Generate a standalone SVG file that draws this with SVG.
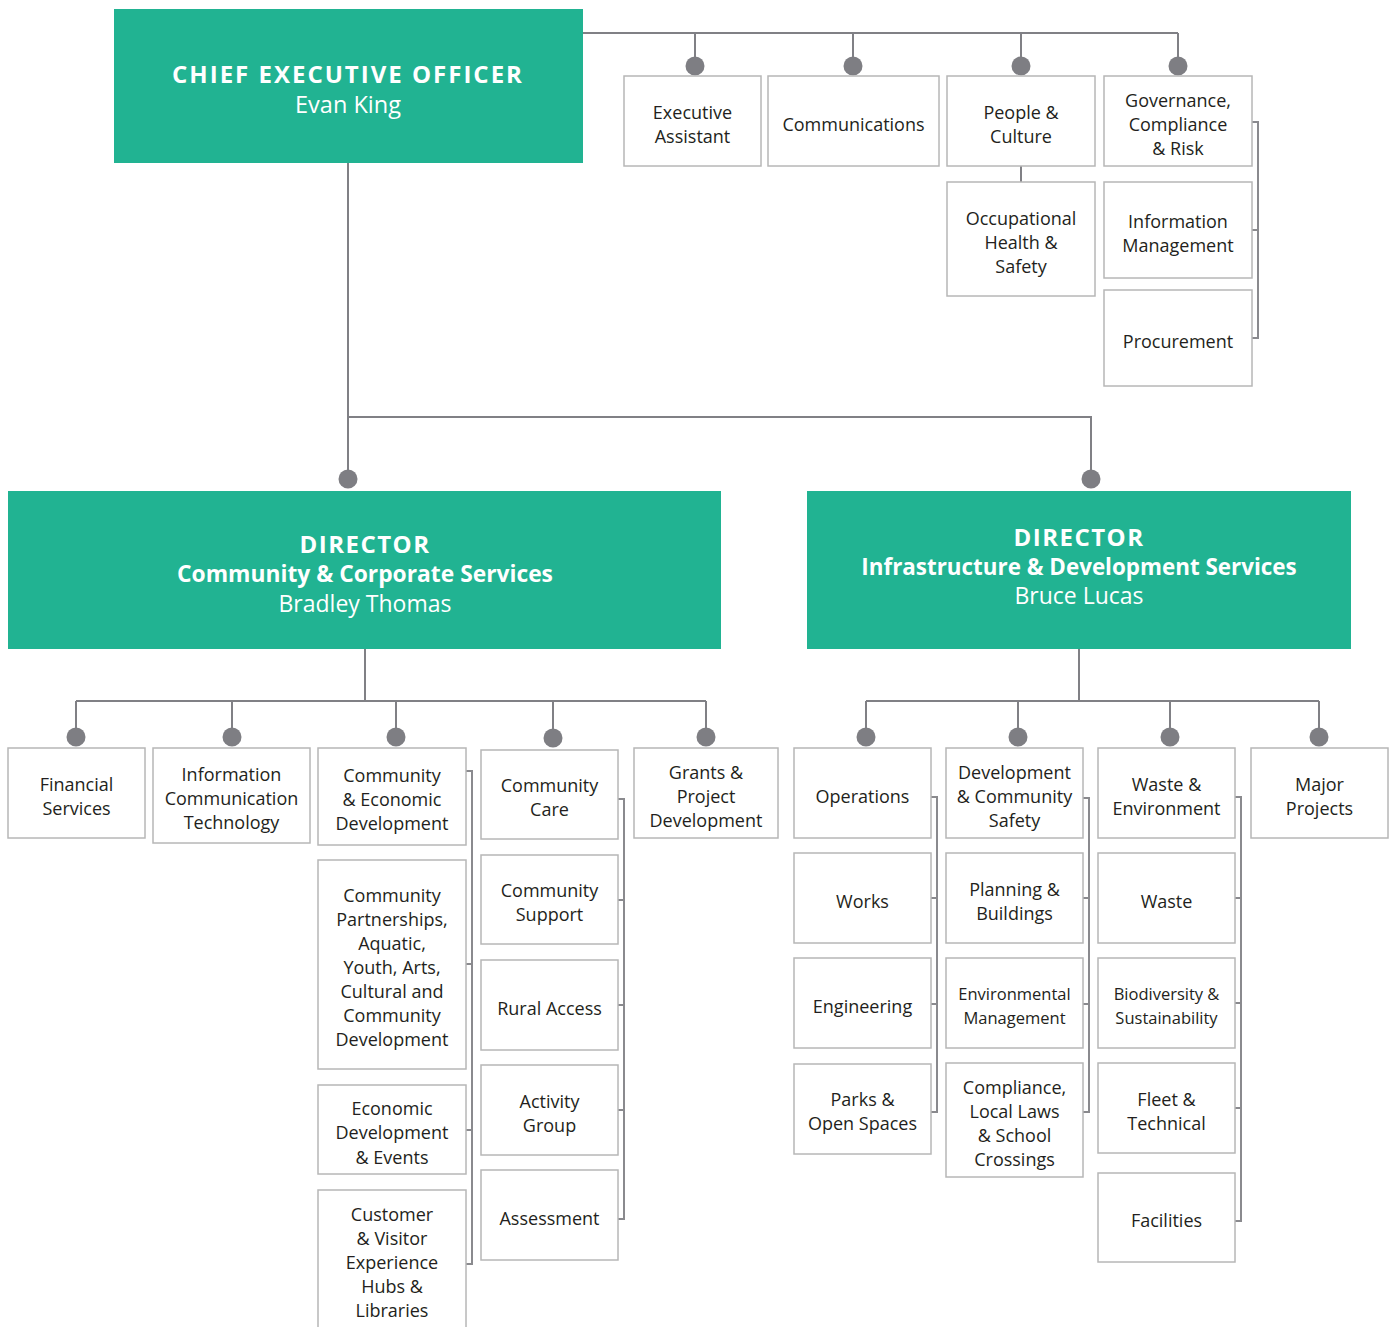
<svg xmlns="http://www.w3.org/2000/svg" width="1394" height="1327" viewBox="0 0 1394 1327">
<style>
.lead{fill:#21b392}
.box{fill:#fff;stroke:#b7b7b7;stroke-width:1.5}
.t{font-family:"Open Sans","Liberation Sans",sans-serif;font-size:18px;fill:#231f20;text-anchor:middle;transform:translateY(1px)}
.ts{font-size:16.5px}
.h{font-family:"Open Sans","Liberation Sans",sans-serif;font-weight:700;fill:#fff;text-anchor:middle}
.n{font-family:"Open Sans","Liberation Sans",sans-serif;font-weight:400;fill:#fff;text-anchor:middle}
.c{fill:none;stroke:#808085;stroke-width:2}
.b{fill:none;stroke:#8a8a8e;stroke-width:2}
.dot{fill:#7e7e83}
</style>
<rect width="1394" height="1327" fill="#fff"/>
<g id="connectors">
<path class="c" d="M583 33H1178M695 33V66M853 33V66M1021 33V66M1178 33V66"/>
<path class="c" d="M1021 166V182"/>
<path class="b" d="M1252 122H1258V338H1252M1252 230H1258"/>
<path class="c" d="M348 163V479M348 417H1091V479"/>
<path class="c" d="M365 649V701M76 701H706M76 701V737M232 701V737M396 701V737M553 701V737M706 701V737"/>
<path class="c" d="M1079 649V701M866 701H1319M866 701V737M1018 701V737M1170 701V737M1319 701V737"/>
<path class="b" d="M466 771H472V1264H466M466 964H472M466 1130H472"/>
<path class="b" d="M618 799H624V1219H618M618 900H624M618 1005H624M618 1110H624"/>
<path class="b" d="M931 797H937V1112H931M931 898H937M931 1004H937"/>
<path class="b" d="M1083 798H1089V1112H1083M1083 898H1089M1083 1004H1089"/>
<path class="b" d="M1235 797H1241V1221H1235M1235 898H1241M1235 1003H1241M1235 1108H1241"/>
<g class="dot">
<circle cx="695" cy="66" r="9.5"/><circle cx="853" cy="66" r="9.5"/><circle cx="1021" cy="66" r="9.5"/><circle cx="1178" cy="66" r="9.5"/>
<circle cx="348" cy="479" r="9.5"/><circle cx="1091" cy="479" r="9.5"/>
<circle cx="76" cy="737" r="9.5"/><circle cx="232" cy="737" r="9.5"/><circle cx="396" cy="737" r="9.5"/><circle cx="553" cy="738" r="9.5"/><circle cx="706" cy="737" r="9.5"/>
<circle cx="866" cy="737" r="9.5"/><circle cx="1018" cy="737" r="9.5"/><circle cx="1170" cy="737" r="9.5"/><circle cx="1319" cy="737" r="9.5"/>
</g>
</g>
<g id="ceo">
<rect class="lead" x="114" y="9" width="469" height="154"/>
<text class="h" x="348" y="83" font-size="24" letter-spacing="2">CHIEF EXECUTIVE OFFICER</text>
<text class="n" x="348" y="113" font-size="23.5">Evan King</text>
</g>
<g id="dir-ccs">
<rect class="lead" x="8" y="491" width="713" height="158"/>
<text class="h" x="365" y="553" font-size="24" letter-spacing="1.5">DIRECTOR</text>
<text class="h" x="365" y="582" font-size="22.8">Community &amp; Corporate Services</text>
<text class="n" x="365" y="612" font-size="23">Bradley Thomas</text>
</g>
<g id="dir-ids">
<rect class="lead" x="807" y="491" width="544" height="158"/>
<text class="h" x="1079" y="546" font-size="24" letter-spacing="1.5">DIRECTOR</text>
<text class="h" x="1079" y="575" font-size="22.4">Infrastructure &amp; Development Services</text>
<text class="n" x="1079" y="604" font-size="23">Bruce Lucas</text>
</g>
<g id="exec-assistant"><rect class="box" x="624" y="76" width="137" height="90"/><text class="t" x="692.5" y="118">Executive</text><text class="t" x="692.5" y="142">Assistant</text></g>
<g id="communications"><rect class="box" x="768" y="76" width="171" height="90"/><text class="t" x="853.5" y="130">Communications</text></g>
<g id="people-culture"><rect class="box" x="947" y="76" width="148" height="90"/><text class="t" x="1021" y="118">People &amp;</text><text class="t" x="1021" y="142">Culture</text></g>
<g id="governance"><rect class="box" x="1104" y="76" width="148" height="90"/><text class="t" x="1178" y="106">Governance,</text><text class="t" x="1178" y="130">Compliance</text><text class="t" x="1178" y="154">&amp; Risk</text></g>
<g id="ohs"><rect class="box" x="947" y="182" width="148" height="114"/><text class="t" x="1021" y="224">Occupational</text><text class="t" x="1021" y="248">Health &amp;</text><text class="t" x="1021" y="272">Safety</text></g>
<g id="info-mgmt"><rect class="box" x="1104" y="182" width="148" height="96"/><text class="t" x="1178" y="227">Information</text><text class="t" x="1178" y="251">Management</text></g>
<g id="procurement"><rect class="box" x="1104" y="290" width="148" height="96"/><text class="t" x="1178" y="347">Procurement</text></g>

<g id="financial"><rect class="box" x="8" y="748" width="137" height="90"/><text class="t" x="76.5" y="790">Financial</text><text class="t" x="76.5" y="814">Services</text></g>
<g id="ict"><rect class="box" x="153" y="748" width="157" height="95"/><text class="t" x="231.5" y="780">Information</text><text class="t" x="231.5" y="804">Communication</text><text class="t" x="231.5" y="828">Technology</text></g>
<g id="ced"><rect class="box" x="318" y="748" width="148" height="97"/><text class="t" x="392" y="781">Community</text><text class="t" x="392" y="805">&amp; Economic</text><text class="t" x="392" y="829">Development</text></g>
<g id="cp"><rect class="box" x="318" y="860" width="148" height="209"/><text class="t" x="392" y="901">Community</text><text class="t" x="392" y="925">Partnerships,</text><text class="t" x="392" y="949">Aquatic,</text><text class="t" x="392" y="973">Youth, Arts,</text><text class="t" x="392" y="997">Cultural and</text><text class="t" x="392" y="1021">Community</text><text class="t" x="392" y="1045">Development</text></g>
<g id="ede"><rect class="box" x="318" y="1085" width="148" height="89"/><text class="t" x="392" y="1114">Economic</text><text class="t" x="392" y="1138">Development</text><text class="t" x="392" y="1163">&amp; Events</text></g>
<g id="cve"><rect class="box" x="318" y="1190" width="148" height="150"/><text class="t" x="392" y="1220">Customer</text><text class="t" x="392" y="1244">&amp; Visitor</text><text class="t" x="392" y="1268">Experience</text><text class="t" x="392" y="1292">Hubs &amp;</text><text class="t" x="392" y="1316">Libraries</text></g>
<g id="comm-care"><rect class="box" x="481" y="750" width="137" height="89"/><text class="t" x="549.5" y="791">Community</text><text class="t" x="549.5" y="815">Care</text></g>
<g id="comm-support"><rect class="box" x="481" y="855" width="137" height="89"/><text class="t" x="549.5" y="896">Community</text><text class="t" x="549.5" y="920">Support</text></g>
<g id="rural"><rect class="box" x="481" y="960" width="137" height="90"/><text class="t" x="549.5" y="1014">Rural Access</text></g>
<g id="activity"><rect class="box" x="481" y="1065" width="137" height="90"/><text class="t" x="549.5" y="1107">Activity</text><text class="t" x="549.5" y="1131">Group</text></g>
<g id="assessment"><rect class="box" x="481" y="1170" width="137" height="90"/><text class="t" x="549.5" y="1224">Assessment</text></g>
<g id="grants"><rect class="box" x="634" y="748" width="144" height="90"/><text class="t" x="706" y="778">Grants &amp;</text><text class="t" x="706" y="802">Project</text><text class="t" x="706" y="826">Development</text></g>

<g id="operations"><rect class="box" x="794" y="748" width="137" height="90"/><text class="t" x="862.5" y="802">Operations</text></g>
<g id="works"><rect class="box" x="794" y="853" width="137" height="90"/><text class="t" x="862.5" y="907">Works</text></g>
<g id="engineering"><rect class="box" x="794" y="958" width="137" height="90"/><text class="t" x="862.5" y="1012">Engineering</text></g>
<g id="parks"><rect class="box" x="794" y="1064" width="137" height="90"/><text class="t" x="862.5" y="1105">Parks &amp;</text><text class="t" x="862.5" y="1129">Open Spaces</text></g>
<g id="dcs"><rect class="box" x="946" y="748" width="137" height="90"/><text class="t" x="1014.5" y="778">Development</text><text class="t" x="1014.5" y="802">&amp; Community</text><text class="t" x="1014.5" y="826">Safety</text></g>
<g id="planning"><rect class="box" x="946" y="853" width="137" height="90"/><text class="t" x="1014.5" y="895">Planning &amp;</text><text class="t" x="1014.5" y="919">Buildings</text></g>
<g id="env-mgmt"><rect class="box" x="946" y="958" width="137" height="90"/><text class="t ts" x="1014.5" y="999">Environmental</text><text class="t ts" x="1014.5" y="1023">Management</text></g>
<g id="compliance"><rect class="box" x="946" y="1063" width="137" height="114"/><text class="t" x="1014.5" y="1093">Compliance,</text><text class="t" x="1014.5" y="1117">Local Laws</text><text class="t" x="1014.5" y="1141">&amp; School</text><text class="t" x="1014.5" y="1165">Crossings</text></g>
<g id="waste-env"><rect class="box" x="1098" y="748" width="137" height="90"/><text class="t" x="1166.5" y="790">Waste &amp;</text><text class="t" x="1166.5" y="814">Environment</text></g>
<g id="waste"><rect class="box" x="1098" y="853" width="137" height="90"/><text class="t" x="1166.5" y="907">Waste</text></g>
<g id="biodiversity"><rect class="box" x="1098" y="958" width="137" height="90"/><text class="t ts" x="1166.5" y="999">Biodiversity &amp;</text><text class="t ts" x="1166.5" y="1023">Sustainability</text></g>
<g id="fleet"><rect class="box" x="1098" y="1063" width="137" height="90"/><text class="t" x="1166.5" y="1105">Fleet &amp;</text><text class="t" x="1166.5" y="1129">Technical</text></g>
<g id="facilities"><rect class="box" x="1098" y="1173" width="137" height="89"/><text class="t" x="1166.5" y="1226">Facilities</text></g>
<g id="major-projects"><rect class="box" x="1251" y="748" width="137" height="90"/><text class="t" x="1319.5" y="790">Major</text><text class="t" x="1319.5" y="814">Projects</text></g>
</svg>
